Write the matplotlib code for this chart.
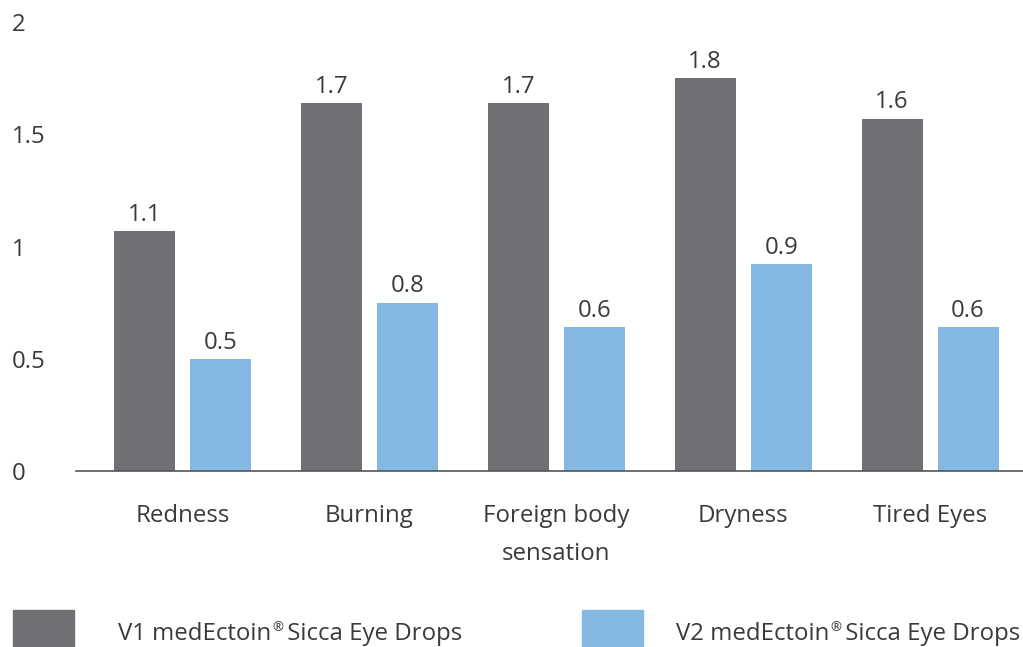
import matplotlib
matplotlib.use("Agg")
import matplotlib.pyplot as plt
from matplotlib.patches import Rectangle
import numpy as np

plt.rcParams['font.family'] = ['Open Sans', 'DejaVu Sans']

categories = ["Redness", "Burning", "Foreign body\nsensation", "Dryness", "Tired Eyes"]
v1_values = [1.07, 1.64, 1.64, 1.75, 1.57]
v2_values = [0.50, 0.75, 0.64, 0.92, 0.64]
v1_labels = ["1.1", "1.7", "1.7", "1.8", "1.6"]
v2_labels = ["0.5", "0.8", "0.6", "0.9", "0.6"]
series_names = [("V1 medEctoin", "\u00ae", " Sicca Eye Drops"),
                ("V2 medEctoin", "\u00ae", " Sicca Eye Drops")]
yticks = [0, 0.5, 1, 1.5, 2]
ytick_labels = ["0", "0.5", "1", "1.5", "2"]

dark = "#716f74"
blue = "#85b8e2"
text_color = "#3a3a3c"
fs = 17.3

W, H = 1023, 647
fig = plt.figure(figsize=(10.23, 6.47), dpi=100)
ax = fig.add_axes([76 / W, 1 - 471 / H, 1 - 76 / W, (471 - 22) / H])

# one category = 187 px
x = np.arange(len(categories))
w = 61 / 187
off = 38 / 187
b1 = ax.bar(x - off, v1_values, w, color=dark)
b2 = ax.bar(x + off, v2_values, w, color=blue)
ax.bar_label(b1, labels=v1_labels, padding=3, fontsize=fs, color=text_color)
ax.bar_label(b2, labels=v2_labels, padding=3, fontsize=fs, color=text_color)

ax.set_xlim(-106.5 / 187, 4 + (1023 - 930) / 187)
ax.set_ylim(0, 2)
ax.set_yticks(yticks)
ax.set_yticklabels(ytick_labels, fontsize=fs, color=text_color, ha="left")
ax.tick_params(axis="y", length=0, pad=46)
ax.set_xticks(x)
ax.set_xticklabels(categories, fontsize=fs, color=text_color, linespacing=1.75, va="top")
ax.tick_params(axis="x", length=0, pad=24)

for s in ["top", "right", "left"]:
    ax.spines[s].set_visible(False)
ax.spines["bottom"].set_color("#555555")
ax.spines["bottom"].set_linewidth(1.2)

# legend drawn by hand, with a small raised (R) sign
fig.canvas.draw()
renderer = fig.canvas.get_renderer()
for (x0, col, parts, tx) in [(13, dark, series_names[0], 118), (582, blue, series_names[1], 676)]:
    fig.patches.append(Rectangle((x0 / W, 0), 61 / W, 37 / H, transform=fig.transFigure,
                                 color=col, clip_on=False))
    ypos = 1 - 634 / H
    t1 = fig.text(tx / W, ypos, parts[0], fontsize=fs, color=text_color, va="center", ha="left")
    x1 = t1.get_window_extent(renderer).x1
    t2 = fig.text(x1 / W + 1 / W, ypos + 6 / H, parts[1], fontsize=fs * 0.55,
                  color=text_color, va="center", ha="left")
    x2 = t2.get_window_extent(renderer).x1
    fig.text(x2 / W - 2 / W, ypos, parts[2], fontsize=fs, color=text_color, va="center", ha="left")

fig.savefig("out.png", dpi=100)
